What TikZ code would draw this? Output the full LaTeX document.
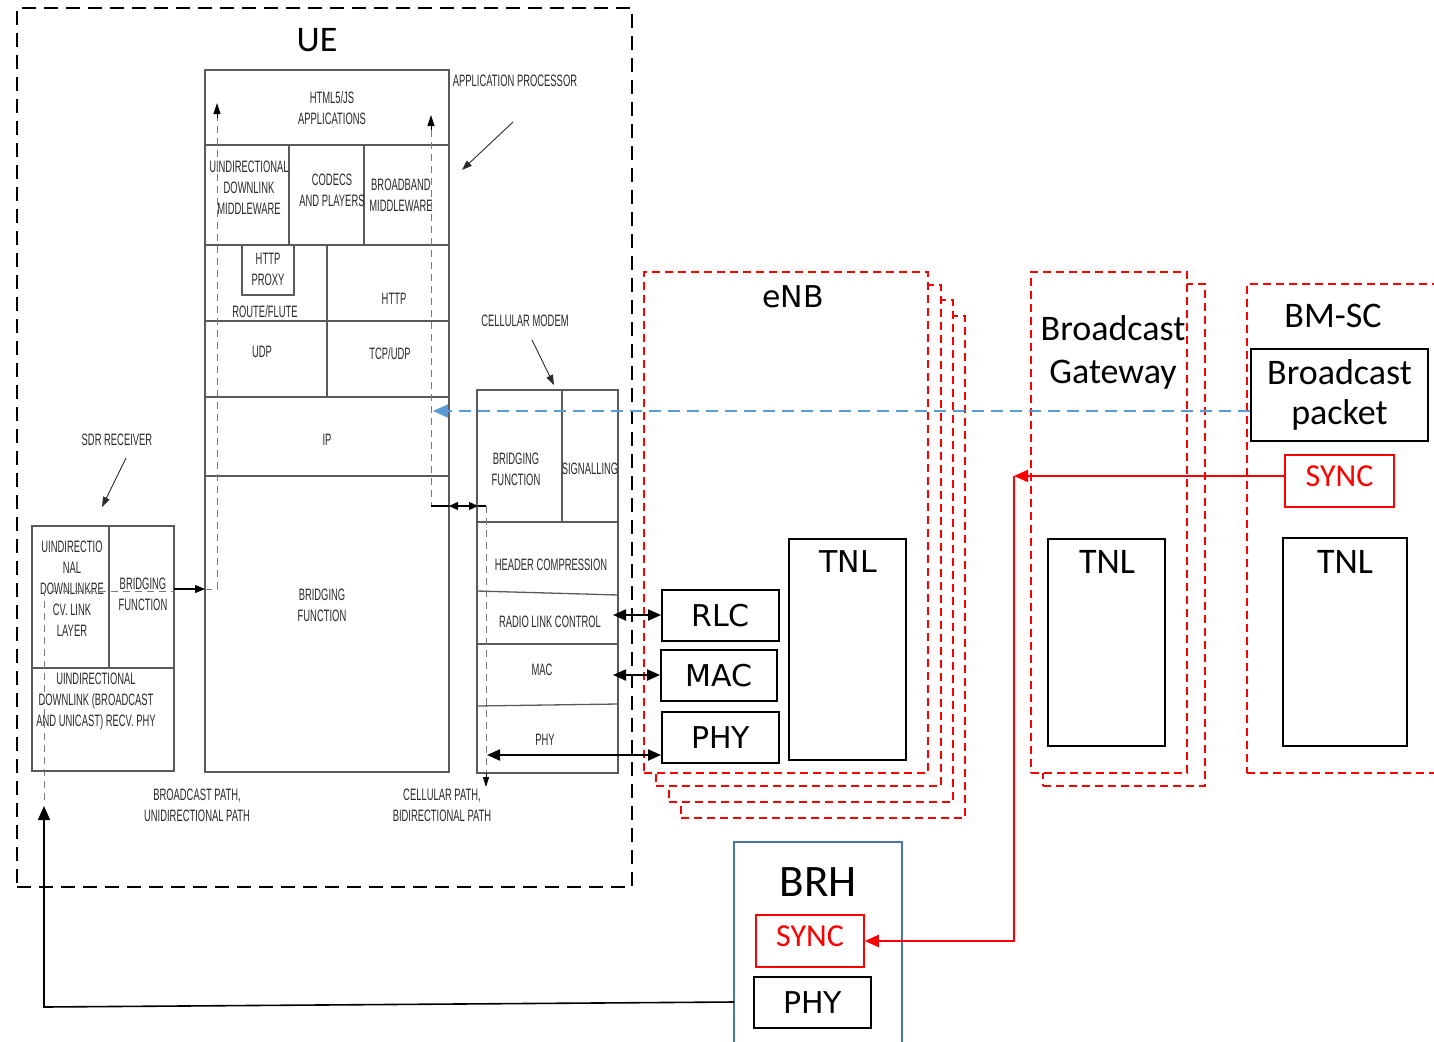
\documentclass[tikz,border=0pt]{standalone}
\usepackage{fontspec}
\setmainfont{Carlito}
\newfontfamily\narrowf[FakeStretch=0.57]{Liberation Sans}
\newfontfamily\dvs{DejaVu Sans}
\usetikzlibrary{arrows.meta}
\definecolor{bluedash}{HTML}{5B9BD5}
\definecolor{brhblue}{HTML}{4A76A8}
\definecolor{uegray}{HTML}{5A5A5A}
\definecolor{txtgray}{HTML}{2A2A2A}
\tikzset{
  small/.style={font=\narrowf\fontsize{16.5}{21}\selectfont, text=txtgray, align=center, inner sep=0},
  ueln/.style={draw=uegray, line width=1.3pt},
  uedash/.style={draw=uegray!80, line width=1pt, dash pattern=on 7pt off 5pt},
  uebox/.style={draw=uegray, line width=1.3pt, inner sep=0},
  reddash/.style={draw=red, line width=1.8pt, dash pattern=on 8pt off 5pt, fill=white, inner sep=0},
  blk/.style={draw=black, line width=1.8pt, fill=white, inner sep=0},
  dv/.style={font=\dvs\fontsize{30}{36}\selectfont, inner sep=0},
  cal/.style={font=\fontsize{36}{44}\selectfont, align=center, inner sep=0},
  syncbox/.style={draw=red, line width=1.5pt, fill=white, inner sep=0, text=red, text depth=10pt, font=\fontsize{32}{38}\selectfont},
  smalltip/.style={-{Triangle[length=10pt,width=7pt]}, line width=0.9pt, draw=txtgray},
  bigtip/.style={-{Triangle[length=14pt,width=12pt]}},
  dbltip/.style={{Triangle[length=13pt,width=11pt]}-{Triangle[length=13pt,width=11pt]}, line width=2pt},
}
\begin{document}
\begin{tikzpicture}[x=1pt,y=-1pt]
\useasboundingbox (0,0) rectangle (1434,1041);

% ===== UE container =====
\node[draw=black, line width=2pt, dash pattern=on 14pt off 8pt, minimum width=615, minimum height=879, inner sep=0] (ue) at (324.5,447.5) {};
\node[font=\fontsize{36}{44}\selectfont, inner sep=0] (uelbl) at (317,40) {UE};

% ===== eNB stacked boxes =====
\node[reddash, minimum width=284, minimum height=502] (enb4) at (823,567) {};
\node[reddash, minimum width=284, minimum height=502] (enb3) at (811,551) {};
\node[reddash, minimum width=285, minimum height=501] (enb2) at (798.5,535.5) {};
\node[reddash, minimum width=284, minimum height=501] (enb1) at (786,522.5) {};
\node[dv] (enblbl) at (793,297) {eNB};

% ===== Broadcast Gateway =====
\node[reddash, minimum width=162, minimum height=502] (bg2) at (1124,535) {};
\node[reddash, minimum width=156, minimum height=501] (bg1) at (1109,522.5) {};
\node[cal] (bglbl) at (1113,352) {Broadcast\\[-1pt]Gateway};

% ===== BM-SC =====
\node[reddash, minimum width=203, minimum height=489] (bmsc) at (1348.5,528.5) {};
\node[cal] (bmsclbl) at (1333,316) {BM-SC};

% ===== Application processor stack =====
\node[uebox, minimum width=244, minimum height=702] (ap) at (327,421) {};
\foreach \yy in {145,245,321,397,476} \draw[ueln] (205,\yy) -- (449,\yy);
\draw[ueln] (289,145) -- (289,245);
\draw[ueln] (364,145) -- (364,245);
\draw[ueln] (327,245) -- (327,397);
\node[uebox, minimum width=52, minimum height=50] (proxy) at (268,270) {};
\node[small] (proxyt) at (268,269) {HTTP\\PROXY};
\node[small] (html) at (332,108) {HTML5/JS\\APPLICATIONS};
\node[small] (udm) at (249,188) {UINDIRECTIONAL\\DOWNLINK\\MIDDLEWARE};
\node[small] (codecs) at (332,190) {CODECS\\AND PLAYERS};
\node[small] (bbm) at (401,195) {BROADBAND\\MIDDLEWARE};
\node[small] (route) at (265,312) {ROUTE/FLUTE};
\node[small] (http) at (394,299) {HTTP};
\node[small] (udp) at (262,352) {UDP};
\node[small] (tcp) at (390,354) {TCP/UDP};
\node[small] (ip) at (327,440) {IP};
\node[small] (bfa) at (322,605) {BRIDGING\\FUNCTION};

% ===== Cellular modem =====
\node[uebox, minimum width=141, minimum height=383] (cm) at (547.5,581.5) {};
\draw[ueln] (562,390) -- (562,522);
\draw[ueln] (477,522) -- (618,522);
\draw[ueln] (477,591) -- (618,595);
\draw[ueln] (477,644) -- (618,644);
\draw[ueln] (477,706) -- (618,704);
\node[small] (bfc) at (516,469) {BRIDGING\\FUNCTION};
\node[small] (sig) at (590,469) {SIGNALLING};
\node[small] (hc) at (551,565) {HEADER COMPRESSION};
\node[small] (rlcc) at (550,622) {RADIO LINK CONTROL};
\node[small] (macc) at (542,670) {MAC};
\node[small] (phyc) at (545,740) {PHY};

% ===== SDR receiver =====
\node[uebox, minimum width=142, minimum height=245] (sdr) at (103,648.5) {};
\draw[ueln] (109,526) -- (109,668);
\draw[ueln] (32,668) -- (174,668);
\node[small] (sdrl) at (72,588.5) {UINDIRECTIO\\NAL\\DOWNLINKRE\\CV. LINK\\LAYER};
\node[small] (sdrb) at (143,594.5) {BRIDGING\\FUNCTION};
\node[small] (sdrp) at (96,701) {UINDIRECTIONAL\\DOWNLINK (BROADCAST\\AND UNICAST) RECV. PHY};

% ===== labels =====
\node[small] (applbl) at (515,81) {APPLICATION PROCESSOR};
\node[small] (cmlbl) at (525,321) {CELLULAR MODEM};
\node[small] (sdrlbl) at (117,440) {SDR RECEIVER};
\node[small] (bplbl) at (197,805.5) {BROADCAST PATH,\\UNIDIRECTIONAL PATH};
\node[small] (cplbl) at (442,805.5) {CELLULAR PATH,\\BIDIRECTIONAL PATH};
\coordinate (apA) at (513,122); \coordinate (apB) at (462,170);
\coordinate (cmA) at (532,340); \coordinate (cmB) at (554,385);
\coordinate (sdA) at (126,458); \coordinate (sdB) at (102,507);
\draw[smalltip] (apA) -- (apB);
\draw[smalltip] (cmA) -- (cmB);
\draw[smalltip] (sdA) -- (sdB);

% ===== UE internal paths =====
\coordinate (bp0) at (44,800);
\coordinate (bp1) at (44,591);
\coordinate (bp2) at (174,591);
\coordinate (bp3) at (174,589);
\coordinate (bp4) at (205,589);
\coordinate (bp5) at (217,118);
\coordinate (bp6) at (217,103);
\draw[uedash] (bp0) -- (bp1) -- (bp2);
\draw[line width=1.2pt, -{Triangle[length=10pt,width=8pt]}] (bp3) -- (bp4);
\draw[uedash] (bp4) -| (bp5);
\draw[line width=1pt, -{Triangle[length=11pt,width=7pt]}] (bp5) -- (bp6);

\coordinate (cp0) at (431,130);
\coordinate (cp1) at (431,115);
\coordinate (cp2) at (431,506);
\coordinate (cp3) at (449,506);
\coordinate (cp4) at (478,506);
\coordinate (cp5) at (486,506);
\coordinate (cp6) at (486,773);
\coordinate (cp7) at (486,787);
\draw[line width=1pt, -{Triangle[length=11pt,width=7pt]}] (cp0) -- (cp1);
\draw[uedash] (cp0) -- (cp2);
\draw[line width=1.2pt] (cp2) -- (cp3);
\draw[line width=1.2pt, {Triangle[length=9pt,width=8pt]}-{Triangle[length=9pt,width=8pt]}] (cp3) -- (cp4);
\draw[line width=1.2pt] (cp4) -- (cp5);
\draw[uedash] (cp5) -- (cp6);
\draw[line width=1pt, -{Triangle[length=10pt,width=6pt]}] (cp6) -- (cp7);

% ===== eNB inner boxes =====
\node[blk, dv, minimum width=117, minimum height=51] (rlc) at (720.5,615.5) {RLC};
\node[blk, dv, minimum width=116, minimum height=51] (mac) at (719,675.5) {MAC};
\node[blk, dv, minimum width=117, minimum height=51] (phy) at (720.5,737.5) {PHY};
\node[blk, minimum width=117, minimum height=221] (tnl1) at (847.5,649.5) {};
\node[dv] (tnl1t) at (848,562) {TNL};

% ===== Broadcast Gateway inner =====
\node[blk, line width=1.5pt, minimum width=117, minimum height=207] (tnl2) at (1106.5,642.5) {};
\node[cal] (tnl2t) at (1107,562) {TNL};

% ===== BM-SC inner =====
\node[blk, line width=1.5pt, cal, minimum width=177, minimum height=92] (bpkt) at (1339.5,395) {Broadcast\\[-4pt]packet};
\node[syncbox, minimum width=109, minimum height=52] (synca) at (1339.5,481) {SYNC};
\node[blk, line width=1.5pt, minimum width=124, minimum height=208] (tnl3) at (1345,642) {};
\node[cal] (tnl3t) at (1345,562) {TNL};

% ===== BRH =====
\node[draw=brhblue, line width=2pt, fill=white, minimum width=168, minimum height=218, inner sep=0] (brh) at (818,951) {};
\node[font=\fontsize{45}{54}\selectfont, inner sep=0] (brhlbl) at (818,882) {BRH};
\node[syncbox, minimum width=108, minimum height=52] (syncb) at (810,941) {SYNC};
\node[blk, line width=1.5pt, dv, minimum width=117, minimum height=51] (phyb) at (812.5,1002.5) {PHY};

% ===== connectors =====
\coordinate (cmr) at (613,615);
\coordinate (cmm) at (613,675);
\coordinate (cmp) at (487,755);
\draw[dbltip] (cmr) -- (cmr -| rlc.west);
\draw[dbltip] (cmm) -- (cmm -| mac.west);
\draw[dbltip] (cmp) -- (cmp -| phy.west);

\coordinate (blueend) at (433,411);
\draw[draw=bluedash, line width=2pt, dash pattern=on 12pt off 7pt, -{Triangle[length=15pt,width=13pt]}] (bpkt.west |- blueend) -- (blueend);

\coordinate (redc) at (1014,476);
\draw[red, line width=2pt, -{Triangle[length=14pt,width=12pt]}] (synca.west |- redc) -- (redc);
\draw[red, line width=2pt, -{Triangle[length=14pt,width=12pt]}] (redc) |- (syncb.east);

\coordinate (bl0) at (734,1002);
\coordinate (bl1) at (44,1007);
\coordinate (bl2) at (44,806);
\draw[line width=1.6pt, bigtip] (bl0) -- (bl1) -- (bl2);
\end{tikzpicture}
\end{document}
